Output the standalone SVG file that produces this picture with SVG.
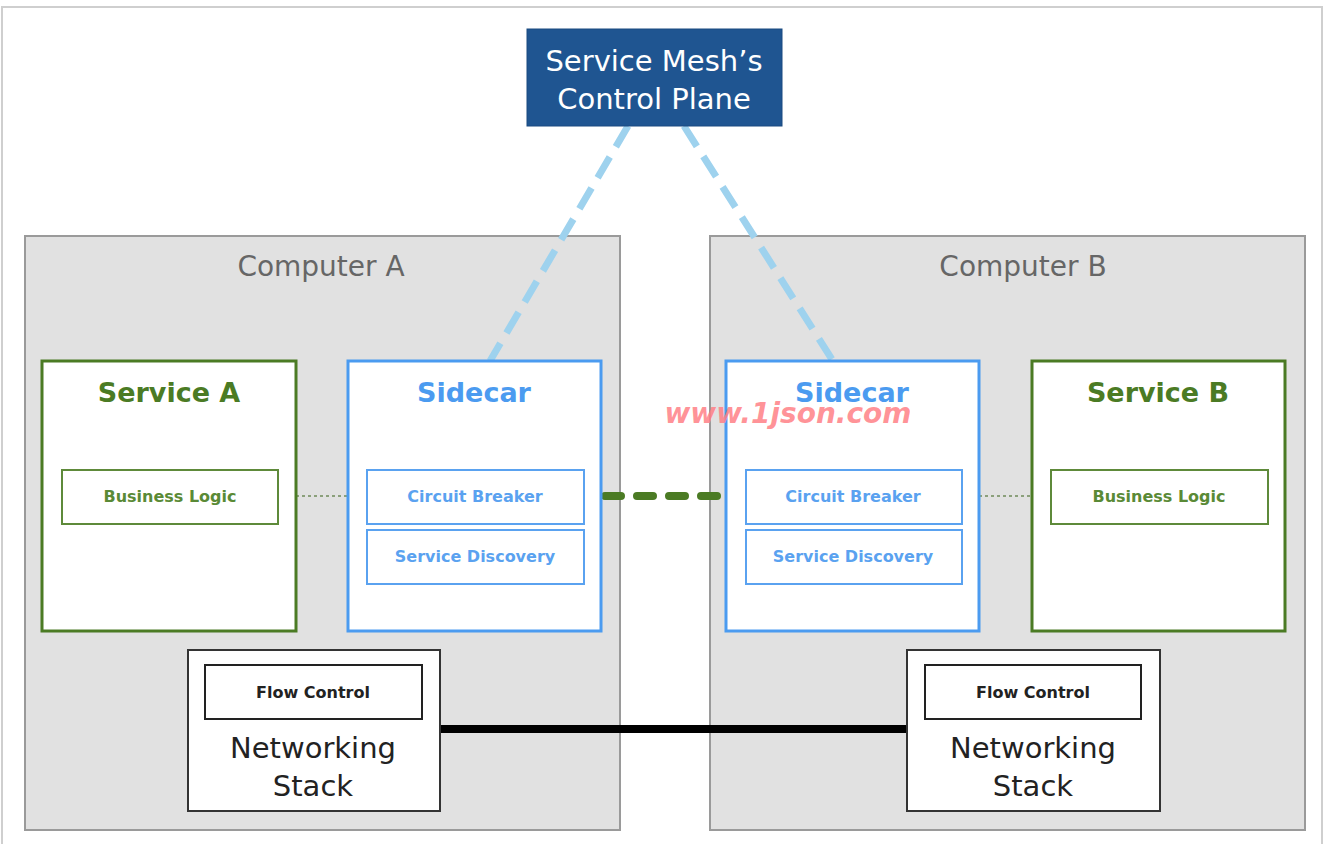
<svg xmlns="http://www.w3.org/2000/svg" width="1330" height="844" viewBox="0 0 1330 844">
<style>
text{font-family:"DejaVu Sans","Liberation Sans",sans-serif;text-anchor:middle}
.comp{fill:#e1e1e1;stroke:#9a9a9a;stroke-width:2}
.compT{fill:#666;font-size:28px}
.svc{fill:#fff;stroke:#4b7b24;stroke-width:3}
.svcT{fill:#4b7b24;font-size:27px;font-weight:bold}
.svcIn{fill:#fff;stroke:#5e8a3a;stroke-width:2}
.svcInT{fill:#5a8a36;font-size:16px;font-weight:bold}
.sc{fill:#fff;stroke:#4b9bf0;stroke-width:3}
.scT{fill:#4b9bf0;font-size:27px;font-weight:bold}
.scIn{fill:#fff;stroke:#5aa2f0;stroke-width:2}
.scInT{fill:#5aa2f0;font-size:16px;font-weight:bold}
.ns{fill:#fff;stroke:#333;stroke-width:2}
.fc{fill:#fff;stroke:#222;stroke-width:2}
.fcT{fill:#222;font-size:16px;font-weight:bold}
.nsT{fill:#222;font-size:29px}
</style>
<rect x="2" y="7" width="1320" height="850" fill="#fff" stroke="#cfcfcf" stroke-width="2"/>
<g id="computerA"><rect class="comp" x="25" y="236" width="595" height="594"/><text class="compT" x="321" y="276">Computer A</text></g>
<g id="computerB"><rect class="comp" x="710" y="236" width="595" height="594"/><text class="compT" x="1023" y="276">Computer B</text></g>
<g id="connectors" fill="none">
<line x1="628" y1="126" x2="490" y2="361" stroke="#9ed2ee" stroke-width="7" stroke-dasharray="24,12"/>
<line x1="684" y1="126" x2="833" y2="361" stroke="#9ed2ee" stroke-width="7" stroke-dasharray="24,12"/>
<line x1="605" y1="496" x2="722" y2="496" stroke="#4b7b24" stroke-width="8" stroke-linecap="round" stroke-dasharray="16,16"/>
<line x1="278" y1="496" x2="348" y2="496" stroke="#6f8a5a" stroke-width="1.5" stroke-dasharray="3,3"/>
<line x1="979" y1="496" x2="1051" y2="496" stroke="#6f8a5a" stroke-width="1.5" stroke-dasharray="3,3"/>
<line x1="440" y1="729" x2="907" y2="729" stroke="#000" stroke-width="8"/>
</g>
<g id="controlPlane"><rect x="527" y="29" width="255" height="97" fill="#1f5591" stroke="#1a4a80" stroke-width="1"/><text x="654" y="71" fill="#fff" font-size="29">Service Mesh’s</text><text x="654" y="109" fill="#fff" font-size="29">Control Plane</text></g>
<g id="serviceA"><rect class="svc" x="42" y="361" width="254" height="270"/><text class="svcT" x="169" y="402">Service A</text>
<rect class="svcIn" x="62" y="470" width="216" height="54"/><text class="svcInT" x="170" y="502">Business Logic</text></g>
<g id="sidecarA"><rect class="sc" x="348" y="361" width="253" height="270"/><text class="scT" x="474" y="402">Sidecar</text>
<rect class="scIn" x="367" y="470" width="217" height="54"/><text class="scInT" x="475" y="502">Circuit Breaker</text>
<rect class="scIn" x="367" y="530" width="217" height="54"/><text class="scInT" x="475" y="562">Service Discovery</text></g>
<g id="sidecarB"><rect class="sc" x="726" y="361" width="253" height="270"/><text class="scT" x="852" y="402">Sidecar</text>
<rect class="scIn" x="746" y="470" width="216" height="54"/><text class="scInT" x="853" y="502">Circuit Breaker</text>
<rect class="scIn" x="746" y="530" width="216" height="54"/><text class="scInT" x="853" y="562">Service Discovery</text></g>
<g id="serviceB"><rect class="svc" x="1032" y="361" width="253" height="270"/><text class="svcT" x="1158" y="402">Service B</text>
<rect class="svcIn" x="1051" y="470" width="217" height="54"/><text class="svcInT" x="1159" y="502">Business Logic</text></g>
<g id="netA"><rect class="ns" x="188" y="650" width="252" height="161"/><rect class="fc" x="205" y="665" width="217" height="54"/><text class="fcT" x="313" y="698">Flow Control</text>
<text class="nsT" x="313" y="758">Networking</text><text class="nsT" x="313" y="796">Stack</text></g>
<g id="netB"><rect class="ns" x="907" y="650" width="253" height="161"/><rect class="fc" x="925" y="665" width="216" height="54"/><text class="fcT" x="1033" y="698">Flow Control</text>
<text class="nsT" x="1033" y="758">Networking</text><text class="nsT" x="1033" y="796">Stack</text></g>
<text x="788" y="423" fill="#ff7f86" fill-opacity="0.85" font-size="28" font-weight="bold" font-style="italic">www.1json.com</text>
</svg>
